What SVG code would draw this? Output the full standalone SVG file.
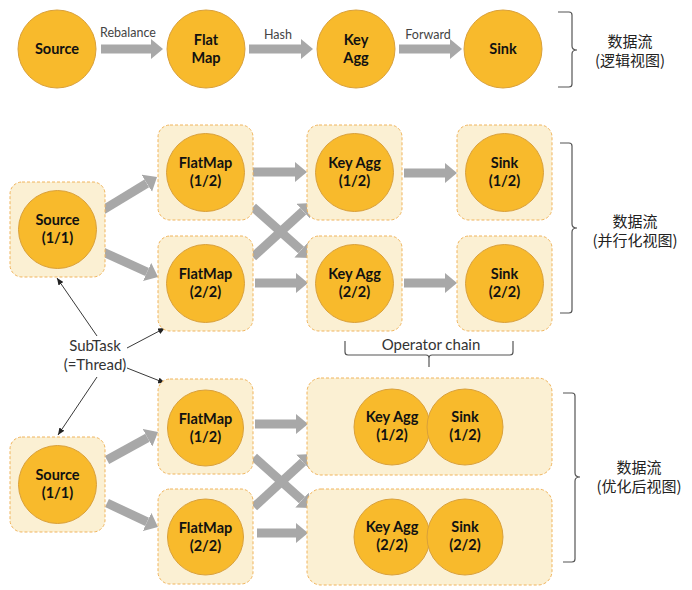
<svg xmlns="http://www.w3.org/2000/svg" width="692" height="590" viewBox="0 0 692 590">
<defs>
<marker id="ah" markerUnits="userSpaceOnUse" markerWidth="12" markerHeight="20" refX="0" refY="10" orient="auto" viewBox="0 0 12 20"><path d="M0,0 L12,10 L0,20 z" fill="#A8A8A8"/></marker>
<marker id="th" markerUnits="userSpaceOnUse" markerWidth="7" markerHeight="6" refX="7" refY="3" orient="auto" viewBox="0 0 7 6"><path d="M0,0 L7,3 L0,6 z" fill="#222"/></marker>
</defs>
<style>
.c{fill:#F8BA2C;stroke:#D9A03A;stroke-width:1}
.b{fill:#FBF0D3;stroke:#F0B45C;stroke-width:1;stroke-dasharray:3 2}
.t{font-family:Lato,"Liberation Sans",sans-serif;font-weight:bold;font-size:14.5px;fill:#111;text-anchor:middle}
.a{stroke:#A8A8A8;stroke-width:9;fill:none;marker-end:url(#ah)}
.s{stroke:#222;stroke-width:0.9;fill:none;marker-end:url(#th)}
.l{font-family:Lato,"Liberation Sans",sans-serif;font-size:12.5px;fill:#444;text-anchor:middle}
.m{font-family:Lato,"Liberation Sans",sans-serif;font-size:15px;fill:#333;text-anchor:middle}
.z{font-family:"Noto Sans CJK SC",sans-serif;font-size:15px;fill:#222;text-anchor:middle}
.br{fill:none;stroke:#555;stroke-width:1.2}
</style>

<g id="connectors">
<line class="a" x1="101" y1="49" x2="151" y2="49"/>
<line class="a" x1="249" y1="49" x2="301" y2="49"/>
<line class="a" x1="399" y1="49" x2="450" y2="49"/>

<line class="a" x1="103" y1="210" x2="146.8" y2="183.3"/>
<line class="a" x1="103" y1="252" x2="147.1" y2="272"/>
<line class="a" x1="253" y1="172" x2="295" y2="172"/>
<line class="a" x1="253" y1="207" x2="301.1" y2="250"/>
<line class="a" x1="253" y1="257" x2="303.2" y2="211.1"/>
<line class="a" x1="255" y1="283" x2="296" y2="283"/>
<line class="a" x1="404" y1="173" x2="445" y2="173"/>
<line class="a" x1="404" y1="283" x2="445" y2="283"/>

<line class="a" x1="107" y1="460" x2="147.5" y2="437.8"/>
<line class="a" x1="107" y1="503" x2="147.1" y2="521.9"/>
<line class="a" x1="255" y1="424" x2="296" y2="424"/>
<line class="a" x1="254" y1="457" x2="302" y2="500"/>
<line class="a" x1="254" y1="507" x2="303" y2="462"/>
<line class="a" x1="257" y1="533" x2="296" y2="533"/>

<line class="s" x1="97" y1="336" x2="57" y2="278"/>
<line class="s" x1="127" y1="348" x2="165" y2="328"/>
<line class="s" x1="127" y1="368" x2="165" y2="383"/>
<line class="s" x1="97" y1="377" x2="58" y2="435"/>
</g>

<g id="edge-labels">
<text class="l" x="128" y="37">Rebalance</text>
<text class="l" x="278" y="39">Hash</text>
<text class="l" x="428" y="39">Forward</text>
</g>

<g id="logical-source"><circle class="c" cx="57" cy="49" r="39"/><text class="t" x="57" y="54">Source</text></g>
<g id="logical-flatmap"><circle class="c" cx="206" cy="49" r="39"/><text class="t" x="206" y="45">Flat</text><text class="t" x="206" y="63">Map</text></g>
<g id="logical-keyagg"><circle class="c" cx="356" cy="49" r="39"/><text class="t" x="356" y="45">Key</text><text class="t" x="356" y="63">Agg</text></g>
<g id="logical-sink"><circle class="c" cx="503" cy="49" r="39"/><text class="t" x="503" y="54">Sink</text></g>

<g id="par-source"><rect class="b" x="10" y="182" width="95" height="95" rx="12"/><circle class="c" cx="57.5" cy="229.5" r="39"/><text class="t" x="57.5" y="225">Source</text><text class="t" x="57.5" y="243">(1/1)</text></g>
<g id="par-flatmap-1"><rect class="b" x="158" y="125" width="95" height="95" rx="12"/><circle class="c" cx="205.5" cy="172.5" r="39"/><text class="t" x="205.5" y="168">FlatMap</text><text class="t" x="205.5" y="186">(1/2)</text></g>
<g id="par-flatmap-2"><rect class="b" x="158" y="236" width="95" height="95" rx="12"/><circle class="c" cx="205.5" cy="283.5" r="39"/><text class="t" x="205.5" y="279">FlatMap</text><text class="t" x="205.5" y="297">(2/2)</text></g>
<g id="par-keyagg-1"><rect class="b" x="307" y="125" width="95" height="95" rx="12"/><circle class="c" cx="354.5" cy="172.5" r="39"/><text class="t" x="354.5" y="168">Key Agg</text><text class="t" x="354.5" y="186">(1/2)</text></g>
<g id="par-keyagg-2"><rect class="b" x="307" y="236" width="95" height="95" rx="12"/><circle class="c" cx="354.5" cy="283.5" r="39"/><text class="t" x="354.5" y="279">Key Agg</text><text class="t" x="354.5" y="297">(2/2)</text></g>
<g id="par-sink-1"><rect class="b" x="457" y="125" width="95" height="95" rx="12"/><circle class="c" cx="504.5" cy="172.5" r="39"/><text class="t" x="504.5" y="168">Sink</text><text class="t" x="504.5" y="186">(1/2)</text></g>
<g id="par-sink-2"><rect class="b" x="457" y="236" width="95" height="95" rx="12"/><circle class="c" cx="504.5" cy="283.5" r="39"/><text class="t" x="504.5" y="279">Sink</text><text class="t" x="504.5" y="297">(2/2)</text></g>

<g id="opt-source"><rect class="b" x="10" y="437" width="95" height="95" rx="12"/><circle class="c" cx="57.5" cy="484.5" r="39"/><text class="t" x="57.5" y="480">Source</text><text class="t" x="57.5" y="498">(1/1)</text></g>
<g id="opt-flatmap-1"><rect class="b" x="158" y="379" width="95" height="95" rx="12"/><circle class="c" cx="205.5" cy="428" r="38"/><text class="t" x="205.5" y="423.5">FlatMap</text><text class="t" x="205.5" y="441.5">(1/2)</text></g>
<g id="opt-flatmap-2"><rect class="b" x="158" y="489" width="95" height="95" rx="12"/><circle class="c" cx="205.5" cy="537" r="38"/><text class="t" x="205.5" y="532.5">FlatMap</text><text class="t" x="205.5" y="550.5">(2/2)</text></g>
<g id="opt-chain-1"><rect class="b" x="307" y="378" width="245" height="97" rx="14"/>
<circle class="c" cx="392" cy="427" r="38"/><circle class="c" cx="465" cy="427" r="38"/>
<text class="t" x="392" y="422">Key Agg</text><text class="t" x="392" y="440">(1/2)</text>
<text class="t" x="465" y="422">Sink</text><text class="t" x="465" y="440">(1/2)</text></g>
<g id="opt-chain-2"><rect class="b" x="307" y="489" width="245" height="96" rx="14"/>
<circle class="c" cx="392" cy="537" r="38"/><circle class="c" cx="465" cy="537" r="38"/>
<text class="t" x="392" y="532">Key Agg</text><text class="t" x="392" y="550">(2/2)</text>
<text class="t" x="465" y="532">Sink</text><text class="t" x="465" y="550">(2/2)</text></g>

<g id="subtask-label"><text class="m" x="95" y="351">SubTask</text><text class="m" x="95" y="370">(=Thread)</text></g>

<g id="operator-chain">
<path class="br" d="M345,341 L345,352 Q345,355 348,355 L426,355 Q429,355 429,358 L429,367 M429,358 Q429,355 432,355 L510,355 Q513,355 513,352 L513,341"/>
<text class="m" x="431" y="350">Operator chain</text>
</g>

<g id="brace-logical">
<path class="br" d="M558,12 L569,12 Q572,12 572,15 L572,46 Q572,50 577,50 Q572,50 572,54 L572,84 Q572,87 569,87 L558,87"/>
<text class="z" x="630" y="47">数据流</text><text class="z" x="630" y="66">(逻辑视图)</text>
</g>
<g id="brace-parallel">
<path class="br" d="M560,143 L569,143 Q572,143 572,146 L572,224 Q572,228 577,228 Q572,228 572,232 L572,310 Q572,313 569,313 L560,313"/>
<text class="z" x="635" y="227">数据流</text><text class="z" x="635" y="246">(并行化视图)</text>
</g>
<g id="brace-optimized">
<path class="br" d="M563,393 L572,393 Q575,393 575,396 L575,473 Q575,477 580,477 Q575,477 575,481 L575,559 Q575,562 572,562 L563,562"/>
<text class="z" x="639" y="473">数据流</text><text class="z" x="639" y="492">(优化后视图)</text>
</g>
</svg>
